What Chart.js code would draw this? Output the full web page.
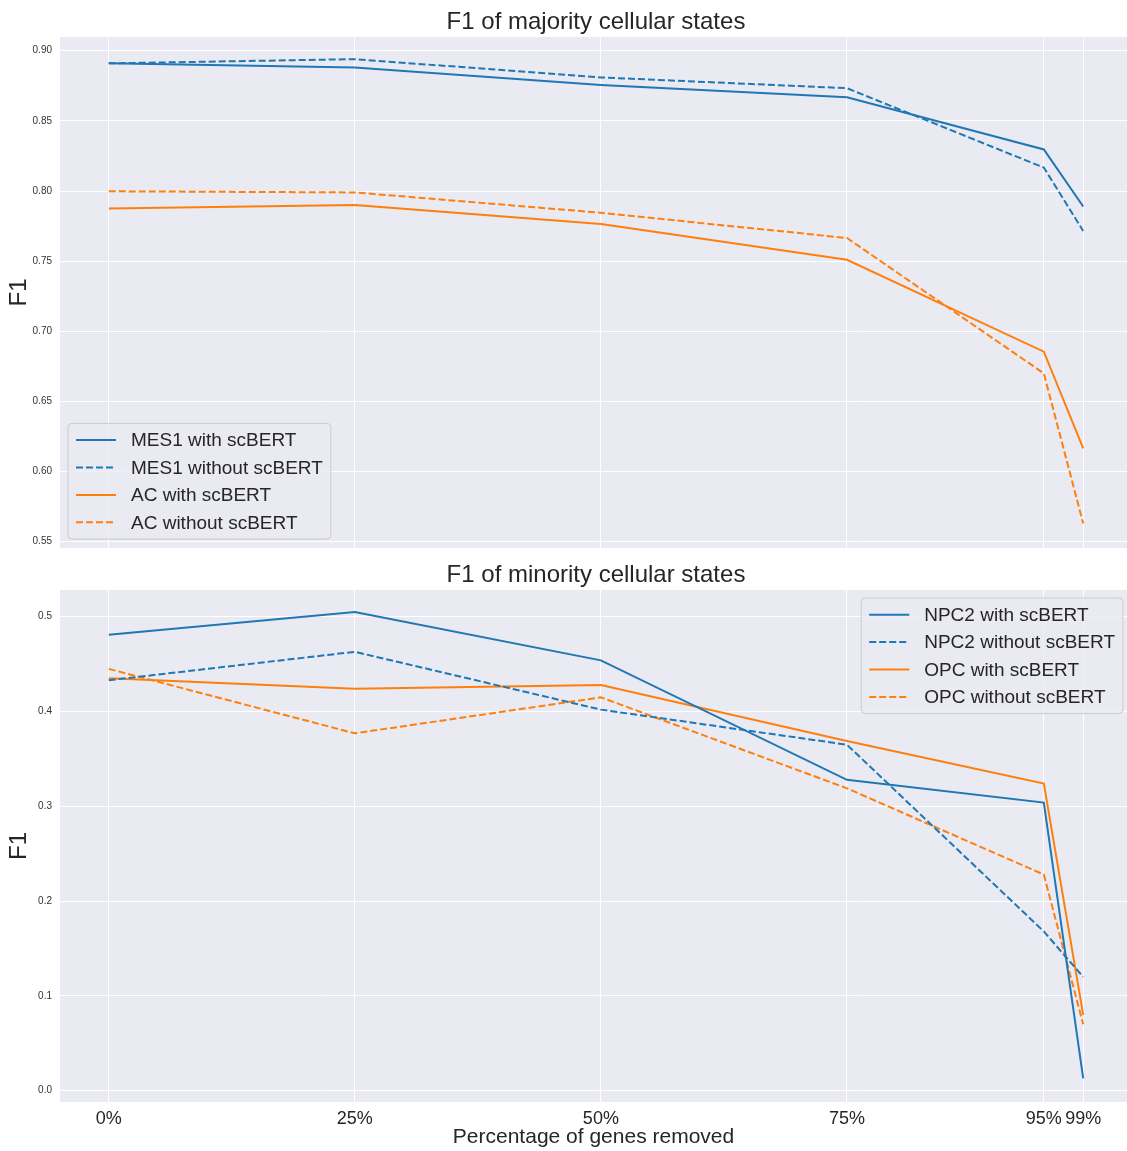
<!DOCTYPE html>
<html>
<head>
<meta charset="utf-8">
<script src="https://cdn.jsdelivr.net/npm/chart.js@4.4.1/dist/chart.umd.min.js"></script>
<style>
  html, body { margin: 0; padding: 0; background: #fff; overflow: hidden; }
  #wrap { position: relative; width: 1127px; height: 1151px; }
  canvas { position: absolute; left: 0; }
  #topChart { top: 0; }
  #bottomChart { top: 555px; }
</style>
</head>
<body>
<div id="wrap">
  <canvas id="topChart" width="1127" height="562"></canvas>
  <canvas id="bottomChart" width="1127" height="596"></canvas>
</div>
<script>
// F1 vs percentage of genes removed, two panels (majority / minority states)

const pctRemoved = [0, 25, 50, 75, 95, 99];

// majority cellular states
const mes1With    = [0.891, 0.888, 0.8755, 0.8668, 0.8296, 0.789];
const mes1Without = [0.891, 0.894, 0.881, 0.8733, 0.8167, 0.7715];
const acWith      = [0.7875, 0.790, 0.7765, 0.751, 0.6855, 0.6165];
const acWithout   = [0.7998, 0.799, 0.7845, 0.7665, 0.670, 0.563];

// minority cellular states
const npc2With    = [0.481, 0.505, 0.454, 0.328, 0.304, 0.013];
const npc2Without = [0.433, 0.463, 0.402, 0.365, 0.168, 0.120];
const opcWith     = [0.435, 0.424, 0.428, 0.369, 0.324, 0.080];
const opcWithout  = [0.445, 0.377, 0.415, 0.319, 0.228, 0.070];

const yTicksTop    = [0.55, 0.60, 0.65, 0.70, 0.75, 0.80, 0.85, 0.90];
const yTicksBottom = [0.0, 0.1, 0.2, 0.3, 0.4, 0.5];

const BLUE = '#1f77b4';
const ORANGE = '#ff7f0e';
const FONT = '"Liberation Sans", Arial, sans-serif';
const DASH = [7, 3];
const TEXT = '#262626';

function series(label, values, color, dashed) {
  return {
    label,
    data: pctRemoved.map((x, i) => ({ x, y: values[i] })),
    borderColor: color,
    backgroundColor: color,
    borderWidth: 2,
    borderDash: dashed ? DASH : [],
    pointRadius: 0,
    tension: 0,
    fill: false,
  };
}

/* ── plot background (seaborn darkgrid) + panel title ── */
const bgPlugin = {
  id: 'plotBg',
  beforeDraw(chart) {
    const { ctx, chartArea: a } = chart;
    ctx.save();
    ctx.fillStyle = '#eaeaf2';
    ctx.fillRect(a.left, a.top, a.right - a.left, a.bottom - a.top);
    ctx.restore();
  },
  afterDraw(chart, args, opts) {
    const { ctx } = chart;
    ctx.save();
    ctx.font = '24px ' + FONT;
    ctx.fillStyle = TEXT;
    ctx.textAlign = 'center';
    ctx.textBaseline = 'middle';
    ctx.fillText(opts.title, 596, opts.titleY);
    ctx.restore();
  }
};

/* ── legend drawn inside the axes, matplotlib style ── */
const boxLegend = {
  id: 'boxLegend',
  afterDraw(chart, args, opts) {
    const { ctx, chartArea: a } = chart;
    const sets = chart.data.datasets;
    const fontSize = 19, rowH = 27.4, padX = 8, handle = 40, gap = 15, padY = 3;
    ctx.save();
    ctx.font = fontSize + 'px ' + FONT;
    const textW = Math.max(...sets.map(d => ctx.measureText(d.label).width));
    const w = padX + handle + gap + textW + padX;
    const h = padY * 2 + rowH * sets.length;
    let x, y;
    if (opts.where === 'lower left') {
      x = a.left + 8; y = a.bottom - 9 - h;
    } else {
      x = a.right - 4 - w; y = a.top + 8;
    }
    const r = 4;
    ctx.beginPath();
    ctx.moveTo(x + r, y);
    ctx.arcTo(x + w, y, x + w, y + h, r);
    ctx.arcTo(x + w, y + h, x, y + h, r);
    ctx.arcTo(x, y + h, x, y, r);
    ctx.arcTo(x, y, x + w, y, r);
    ctx.closePath();
    ctx.fillStyle = 'rgba(234,234,242,0.8)';
    ctx.fill();
    ctx.strokeStyle = '#cccccc';
    ctx.lineWidth = 1;
    ctx.stroke();

    sets.forEach((d, i) => {
      const cy = y + padY + rowH * i + rowH / 2;
      ctx.beginPath();
      ctx.setLineDash(d.borderDash);
      ctx.strokeStyle = d.borderColor;
      ctx.lineWidth = 2;
      ctx.moveTo(x + padX, cy);
      ctx.lineTo(x + padX + handle, cy);
      ctx.stroke();
      ctx.setLineDash([]);
      ctx.fillStyle = TEXT;
      ctx.textBaseline = 'middle';
      ctx.textAlign = 'left';
      ctx.fillText(d.label, x + padX + handle + gap, cy + 1);
    });
    ctx.restore();
  }
};

function makePanel(id, title, datasets, yTicks, decimals, yMin, yMax, showX, where, padTop, titleY) {
  return new Chart(document.getElementById(id), {
    type: 'line',
    data: { datasets },
    plugins: [bgPlugin, boxLegend],
    options: {
      responsive: false,
      animation: false,
      devicePixelRatio: 1,
      layout: { padding: { top: padTop, left: 0, right: 0, bottom: 0 } },
      plugins: {
        legend: { display: false },
        tooltip: { enabled: false },
        title: { display: false },
        plotBg: { title, titleY },
        boxLegend: { where },
      },
      scales: {
        x: {
          type: 'linear',
          min: -4.95,
          max: 103.45,
          afterBuildTicks: s => { s.ticks = pctRemoved.map(v => ({ value: v })); },
          afterFit: s => { s.height = showX ? 49 : 0; },
          grid: { color: '#ffffff', lineWidth: 1, drawTicks: false },
          border: { display: false },
          ticks: {
            display: showX,
            padding: 6,
            color: TEXT,
            font: { family: FONT, size: 18 },
            maxRotation: 0,
            autoSkip: false,
            callback: v => v + '%',
          },
          title: {
            display: showX,
            text: 'Percentage of genes removed',
            color: TEXT,
            font: { family: FONT, size: 21 },
            padding: { top: 0, bottom: 1 },
          },
        },
        y: {
          min: yMin,
          max: yMax,
          afterBuildTicks: s => { s.ticks = yTicks.map(v => ({ value: v })); },
          afterFit: s => { s.width = 60; },
          grid: { color: '#ffffff', lineWidth: 1, drawTicks: false },
          border: { display: false },
          ticks: {
            padding: 8,
            color: '#333333',
            font: { family: FONT, size: 10 },
            callback: v => Number(v).toFixed(decimals),
          },
          title: {
            display: true,
            text: 'F1',
            color: TEXT,
            font: { family: FONT, size: 24 },
            padding: { top: 5, bottom: 0 },
          },
        },
      },
    },
  });
}

makePanel('topChart', 'F1 of majority cellular states', [
  series('MES1 with scBERT', mes1With, BLUE, false),
  series('MES1 without scBERT', mes1Without, BLUE, true),
  series('AC with scBERT', acWith, ORANGE, false),
  series('AC without scBERT', acWithout, ORANGE, true),
], yTicksTop, 2, 0.5455, 0.9098, false, 'lower left', 37, 22);

makePanel('bottomChart', 'F1 of minority cellular states', [
  series('NPC2 with scBERT', npc2With, BLUE, false),
  series('NPC2 without scBERT', npc2Without, BLUE, true),
  series('OPC with scBERT', opcWith, ORANGE, false),
  series('OPC without scBERT', opcWithout, ORANGE, true),
], yTicksBottom, 1, -0.0119, 0.5282, true, 'upper right', 35, 20);
</script>
</body>
</html>
